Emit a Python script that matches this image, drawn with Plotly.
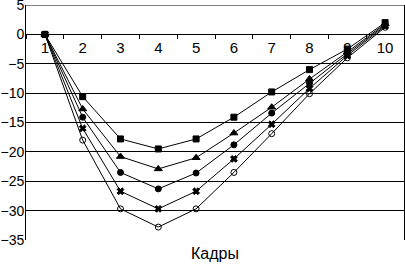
import plotly.graph_objects as go

frames = [1, 2, 3, 4, 5, 6, 7, 8, 9, 10]
series_a = [0, -10.6, -17.8, -19.5, -17.8, -14.1, -9.8, -6.0, -2.5, 2.0]
series_b = [0, -12.7, -20.8, -22.9, -21.0, -16.8, -12.4, -7.6, -3.0, 1.8]
series_c = [0, -14.1, -23.5, -26.3, -23.6, -18.8, -13.4, -8.3, -3.3, 1.6]
series_d = [0, -16.0, -26.7, -29.7, -26.7, -21.2, -15.3, -9.2, -3.6, 1.4]
series_e = [0, -18.0, -29.7, -32.8, -29.7, -23.5, -16.9, -10.1, -4.0, 1.2]
y_ticks = [5, 0, -5, -10, -15, -20, -25, -30, -35]
x_title = "Кадры"

fig = go.Figure()
specs = [
    (series_a, "square", 6),
    (series_b, "triangle-up", 7),
    (series_c, "circle", 6),
    (series_d, "x", 6),
    (series_e, "circle-open", 6),
]
for vals, sym, sz in specs:
    fig.add_trace(go.Scatter(
        x=frames, y=vals, mode="lines+markers",
        line=dict(color="black", width=1),
        marker=dict(symbol=sym, size=sz, color="black",
                    line=dict(color="black", width=1)),
        showlegend=False, cliponaxis=False,
    ))

fig.update_layout(
    width=405, height=264,
    margin=dict(l=26, r=1, t=5, b=24, autoexpand=False),
    plot_bgcolor="white", paper_bgcolor="white",
    font=dict(family="Arial", size=14, color="black"),
    xaxis=dict(
        range=[0.5, 10.5], tickvals=frames, ticktext=[str(f) for f in frames],
        showgrid=False, zeroline=False, showline=True, linecolor="black", linewidth=1,
        anchor="free", position=35/40, ticks="", ticklen=0, automargin=False,
        minor=dict(tick0=0.5, dtick=1, ticks="outside", ticklen=4, tickcolor="black", showgrid=False),
        tickfont=dict(size=15),
    ),
    yaxis=dict(
        range=[-35.001, 5.001], tickvals=y_ticks, showgrid=True, gridcolor="black", gridwidth=1,
        zeroline=False, showline=True, linecolor="black", linewidth=1, mirror=True,
        ticks="", tickfont=dict(size=14), ticklabeloverflow="allow", automargin=False,
        ticklabelstandoff=-2,
    ),
    shapes=[dict(
        type="line", xref="paper", yref="y", x0=0, x1=1,
        y0=max(y_ticks), y1=max(y_ticks), line=dict(color="black", width=1),
    )],
    annotations=[dict(
        text=x_title, x=0.5, y=0, xref="paper", yref="paper",
        xanchor="center", yanchor="top", yshift=-3, showarrow=False,
        font=dict(size=16, color="black"),
    )],
)

fig.write_html(
    "out.html",
    config={"displayModeBar": False},
    post_script="document.body.style.margin='0';document.body.style.overflow='hidden';",
)
